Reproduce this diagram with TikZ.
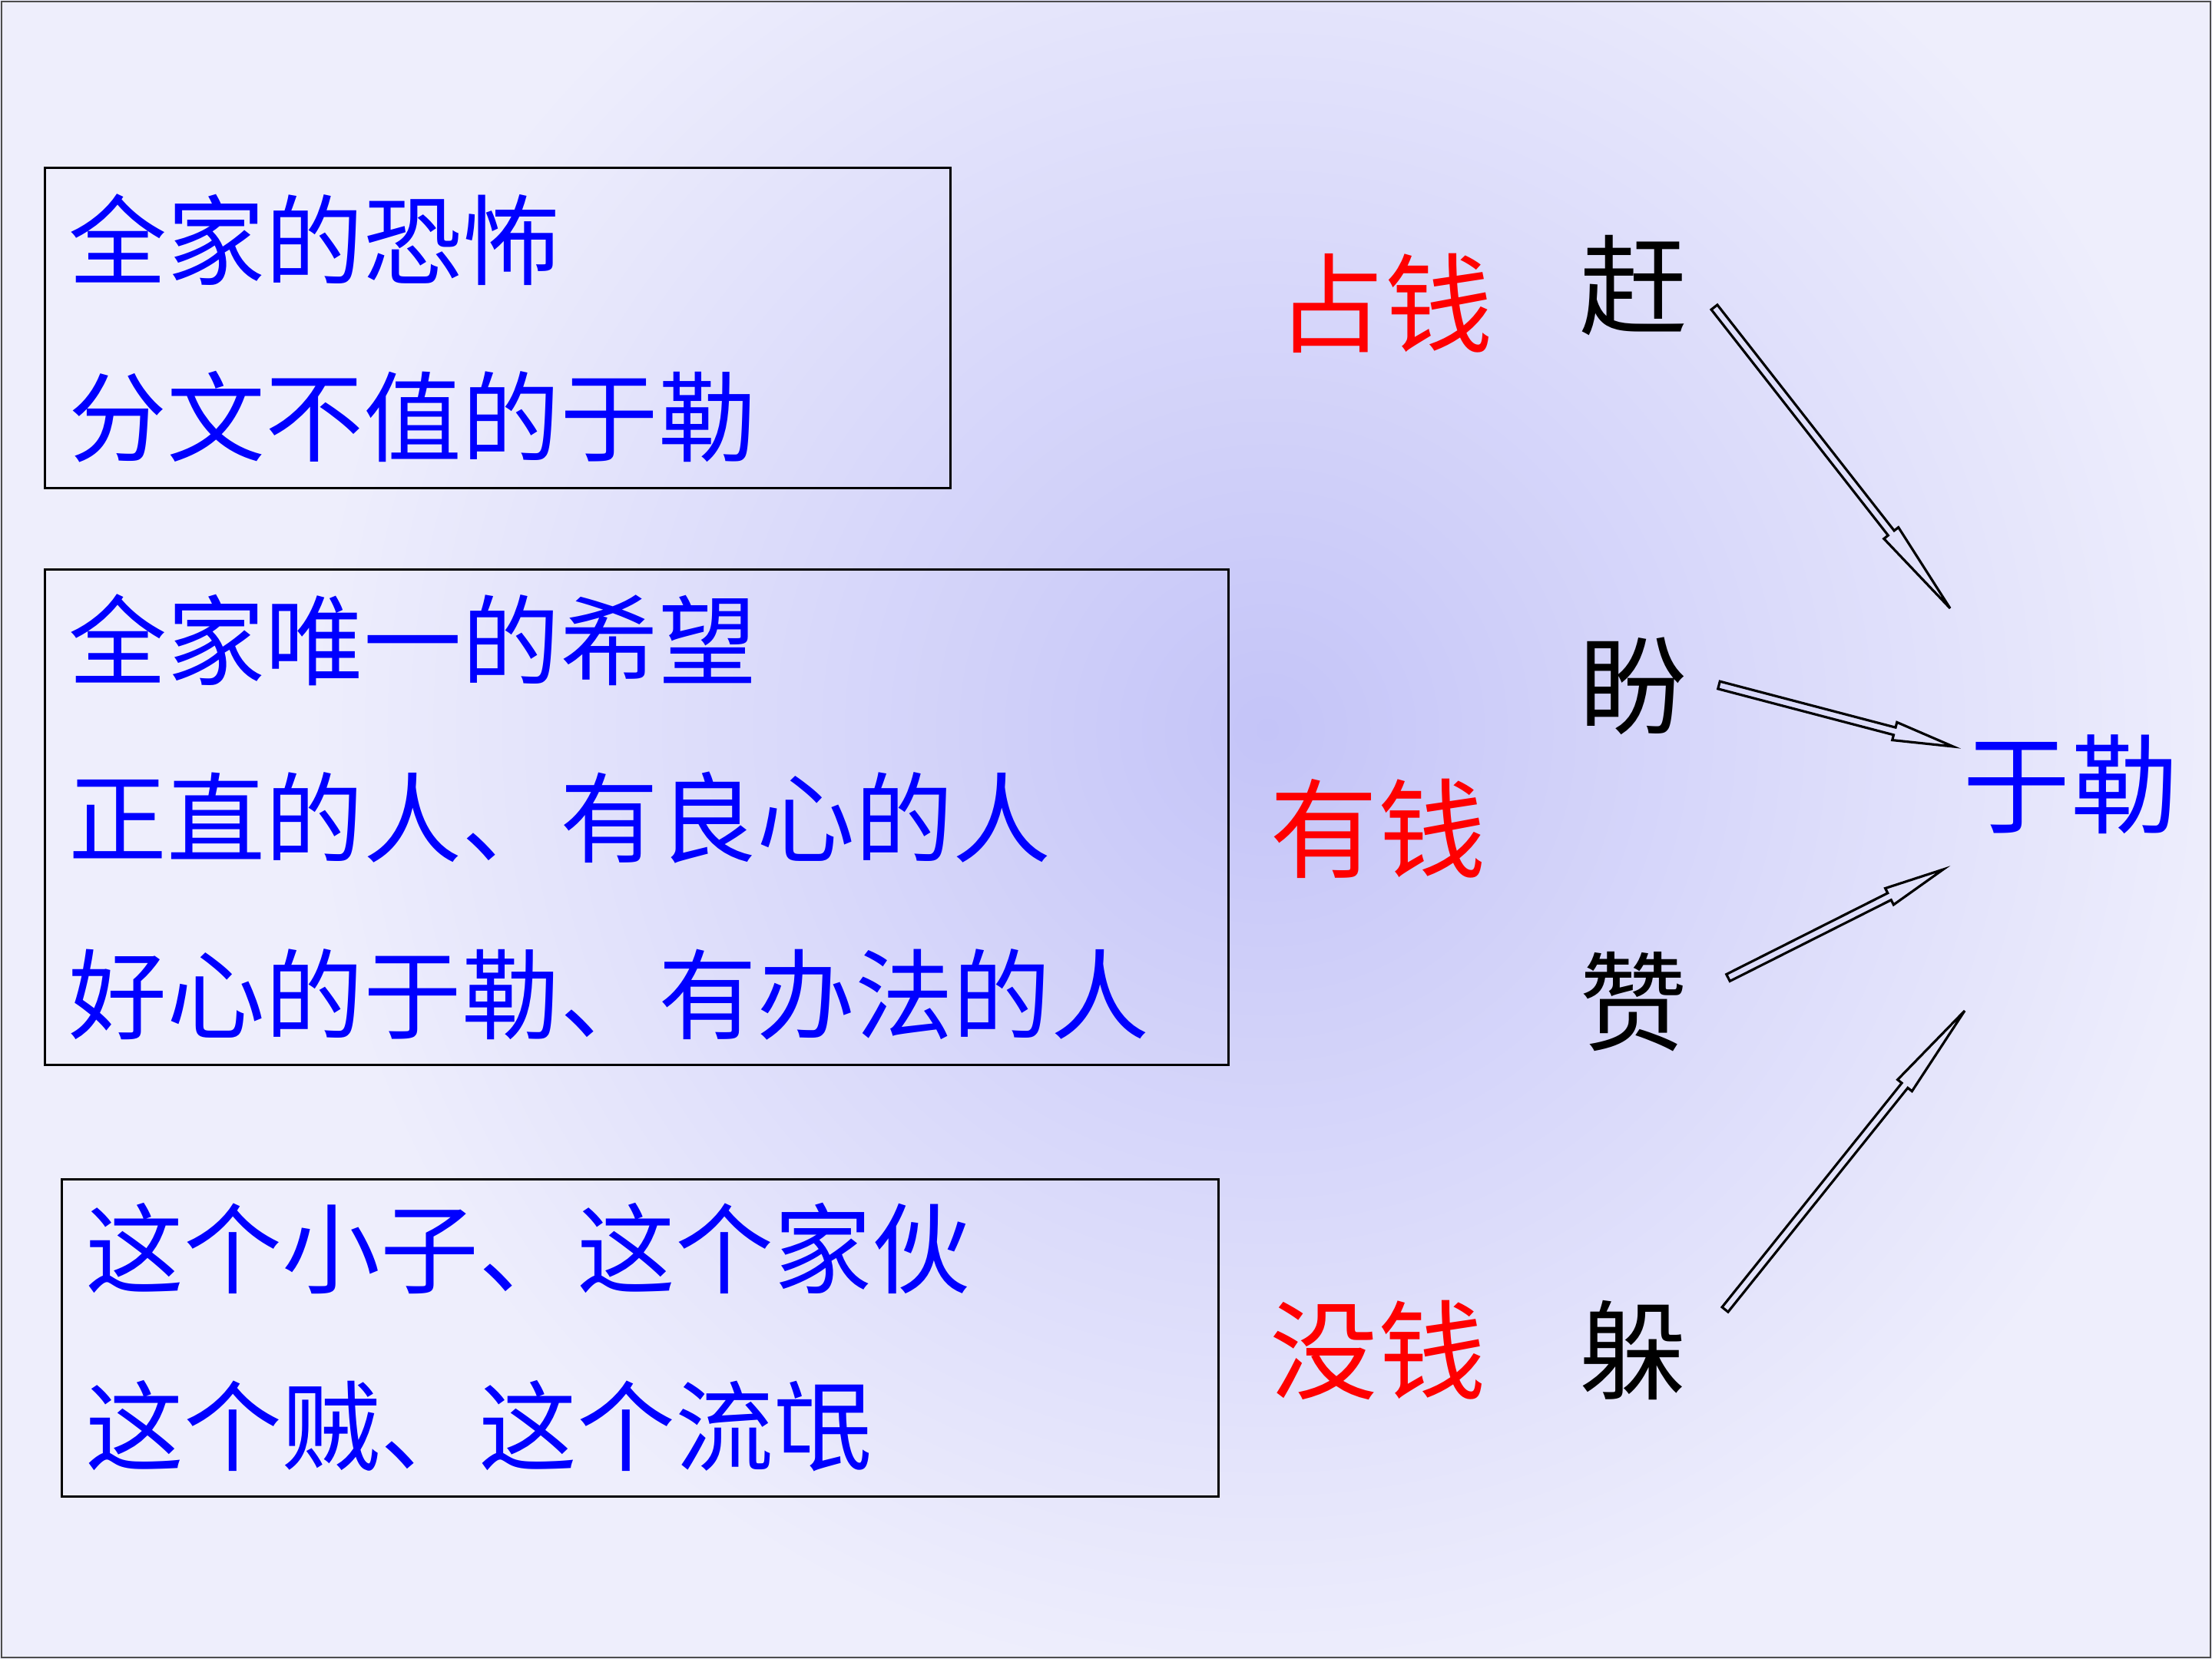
\documentclass[tikz,border=0pt]{standalone}
\usepackage{fontspec}
\setmainfont{Noto Sans CJK SC}
\usetikzlibrary{calc,positioning}
\definecolor{bgouter}{RGB}{238,238,252}
\definecolor{bginner}{RGB}{196,196,248}
\definecolor{txtblue}{RGB}{0,0,255}
\definecolor{txtred}{RGB}{255,0,0}
\tikzset{
  textbox/.style={draw, line width=0.9pt, align=left, anchor=north west,
    inner xsep=0.31cm, inner ysep=0pt, text=txtblue,
    font=\fontsize{36.4}{65.5}\selectfont},
  money/.style={text=txtred, anchor=west, inner sep=0pt,
    font=\fontsize{40}{40}\selectfont},
  verbword/.style={text=black, anchor=west, inner sep=0pt,
    font=\fontsize{40}{40}\selectfont},
  hollow/.style={draw=black, line width=0.9pt, line join=miter}
}
% open arrow with a thin shaft and a long narrow head
\newcommand{\hollowarrow}[2]{%
  \coordinate (neck) at ($(#2)!0.25!(#1)$);
  \draw[hollow] ($(#1)!0.05cm!-90:(#2)$)
    -- ($(neck)!0.05cm!90:(#1)$)
    -- ($(neck)!0.12cm!90:(#1)$)
    -- (#2)
    -- ($(neck)!0.12cm!-90:(#1)$)
    -- ($(neck)!0.05cm!-90:(#1)$)
    -- ($(#1)!0.05cm!90:(#2)$) -- cycle;}

\begin{document}
\begin{tikzpicture}
\useasboundingbox (0,0) rectangle (28.8,-21.6);

% background
\fill[bgouter] (0,0) rectangle (28.8,-21.6);
\begin{scope}
  \clip (0,0) rectangle (28.8,-21.6);
  \shade[inner color=bginner, outer color=bgouter] (16.5,-9.5) circle (12.5);
\end{scope}
\draw[line width=0.6pt, black!70] (0.02,-0.02) rectangle (28.78,-21.58);

% left boxes
\node[textbox, text width=11.17cm, minimum width=11.79cm, minimum height=4.17cm]
  (fear) at (0.57,-2.17) {全家的恐怖\\分文不值的于勒};
\node[textbox, text width=14.79cm, minimum width=15.41cm, minimum height=6.45cm]
  (hope) at (0.57,-7.40) {全家唯一的希望\\正直的人、有良心的人\\好心的于勒、有办法的人};
\node[textbox, text width=14.44cm, minimum width=15.06cm, minimum height=4.13cm]
  (thief) at (0.79,-15.34) {这个小子、这个家伙\\这个贼、这个流氓};

% money
\node[money] (zhanqian) at (16.62,-3.95) {占钱};
\node[money] (youqian) at (16.53,-10.79) {有钱};
\node[money] (meiqian) at (16.53,-17.58) {没钱};

% attitudes
\node[verbword] (gan) at (20.56,-3.72) {赶};
\node[verbword] (pan) at (20.56,-8.93) {盼};
\node[verbword] (zan) at (20.56,-13.04) {赞};
\node[verbword] (duo) at (20.56,-17.58) {躲};

\node[verbword, text=txtblue] (yule) at (25.55,-10.21) {于勒};

% arrows
\coordinate (gantail) at (22.32,-4.00);
\coordinate (gantip) at (25.39,-7.92);
\coordinate (pantail) at (22.38,-8.92);
\coordinate (pantip) at (25.43,-9.72);
\coordinate (zantail) at (22.50,-12.73);
\coordinate (zantip) at (25.30,-11.32);
\coordinate (duotail) at (22.46,-17.05);
\coordinate (duotip) at (25.58,-13.16);
\hollowarrow{gantail}{gantip}
\hollowarrow{pantail}{pantip}
\hollowarrow{zantail}{zantip}
\hollowarrow{duotail}{duotip}
\end{tikzpicture}
\end{document}
